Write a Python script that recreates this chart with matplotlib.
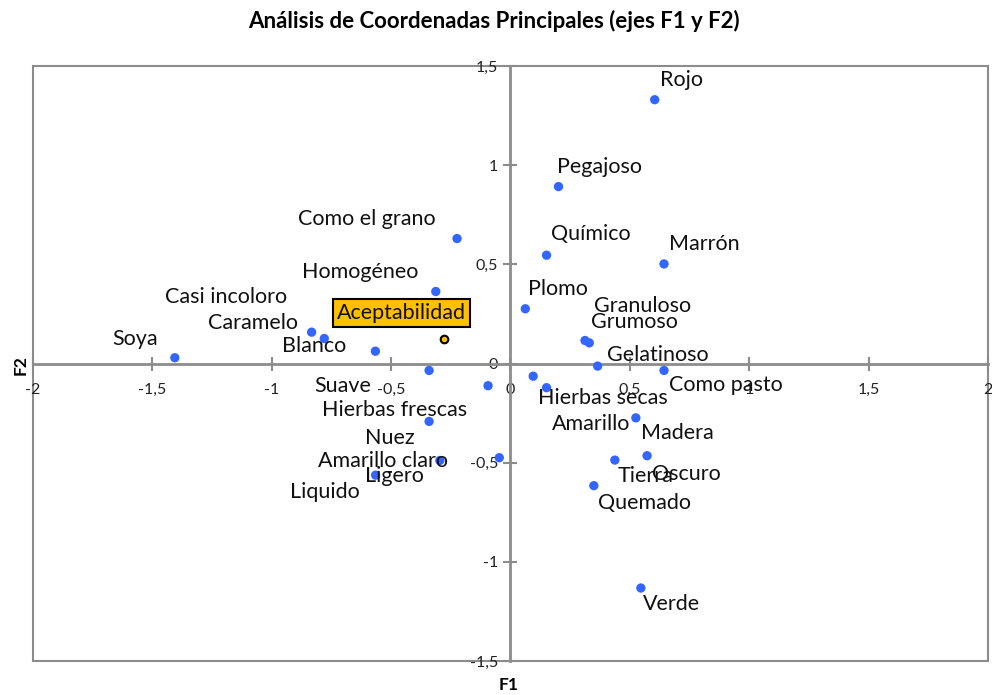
#!/usr/bin/env python3
# coding: utf-8

import matplotlib
matplotlib.use('Agg')
import matplotlib.pyplot as plt
from matplotlib.patches import Rectangle
from matplotlib.ticker import FuncFormatter

plt.rcParams['font.family'] = ['Lato', 'DejaVu Sans']

# variables (F1, F2)
labels = ['Rojo', 'Pegajoso', 'Como el grano', 'Químico', 'Marrón', 'Homogéneo',
          'Casi incoloro', 'Caramelo', 'Soya', 'Blanco', 'Plomo', 'Granuloso',
          'Grumoso', 'Gelatinoso', 'Como pasto', 'Suave', 'Hierbas frescas',
          'Hierbas secas', 'Amarillo', 'Nuez', 'Amarillo claro', 'Ligero',
          'Liquido', 'Madera', 'Oscuro', 'Tierra', 'Quemado', 'Verde']
f1 = [0.604, 0.201, -0.224, 0.151, 0.643, -0.313,
      -0.780, -0.833, -1.406, -0.566, 0.062, 0.312,
      0.330, 0.365, 0.643, -0.341, -0.094,
      0.095, 0.151, -0.341, -0.047, -0.296,
      -0.565, 0.525, 0.572, 0.437, 0.349, 0.546]
f2 = [1.330, 0.892, 0.630, 0.546, 0.502, 0.363,
      0.126, 0.158, 0.029, 0.062, 0.276, 0.116,
      0.104, -0.013, -0.035, -0.035, -0.112,
      -0.064, -0.122, -0.292, -0.475, -0.489,
      -0.563, -0.274, -0.465, -0.487, -0.616, -1.132]

# supplementary variable
sup_label = 'Aceptabilidad'
sup_f1 = -0.277
sup_f2 = 0.124

# label offsets in pixels (dx, dy)
offsets = {
    'Rojo': (27, 20), 'Pegajoso': (41, 20), 'Como el grano': (-90, 20),
    'Químico': (44, 21), 'Marrón': (40, 20), 'Homogéneo': (-76, 20),
    'Casi incoloro': (-98, 42), 'Caramelo': (-59, 9), 'Soya': (-40, 19),
    'Blanco': (-61, 5), 'Plomo': (33, 20), 'Granuloso': (58, 34),
    'Grumoso': (45, 21), 'Gelatinoso': (60, 11), 'Como pasto': (62, -15),
    'Suave': (-86, -16), 'Hierbas frescas': (-93, -24), 'Hierbas secas': (70, -22),
    'Amarillo': (45, -36), 'Nuez': (-39, -17), 'Amarillo claro': (-116, -3),
    'Ligero': (-45, -16), 'Liquido': (-51, -17), 'Madera': (42, -15),
    'Oscuro': (39, -18), 'Tierra': (31, -16), 'Quemado': (51, -17),
    'Verde': (31, -16),
}


def main():
    fig = plt.figure(figsize=(9.92, 6.95), dpi=100)
    ax = fig.add_axes([33 / 992, 34 / 695, 955 / 992, 595 / 695])
    ax.set_xlim(-2, 2)
    ax.set_ylim(-1.5, 1.5)

    grey = '#8c8c8c'
    ax.add_patch(Rectangle((0, 0), 1, 1, transform=ax.transAxes, fill=False,
                           edgecolor=grey, lw=1.5, clip_on=False, zorder=1))

    for s in ['top', 'right']:
        ax.spines[s].set_visible(False)
    ax.spines['left'].set_position(('data', 0))
    ax.spines['bottom'].set_position(('data', 0))
    ax.spines['left'].set_color(grey)
    ax.spines['bottom'].set_color(grey)
    ax.spines['left'].set_linewidth(2)
    ax.spines['bottom'].set_linewidth(2)

    ticks_x = [-2, -1.5, -1, -0.5, 0, 0.5, 1, 1.5, 2]
    ticks_y = [-1.5, -1, -0.5, 0, 0.5, 1, 1.5]
    ax.set_xticks(ticks_x)
    ax.set_yticks(ticks_y)
    fmt = FuncFormatter(lambda v, p: ('%g' % v).replace('.', ','))
    ax.xaxis.set_major_formatter(fmt)
    ax.yaxis.set_major_formatter(fmt)
    ax.tick_params(direction='inout', length=10, width=1.5, color=grey,
                   labelsize=11.5, labelcolor='#222222')
    ax.tick_params(axis='x', pad=9)
    ax.tick_params(axis='y', pad=4)

    ax.scatter(f1, f2, s=45, color='#3366ff', edgecolors='none', zorder=3)
    for name, x, y in zip(labels, f1, f2):
        dx, dy = offsets[name]
        ax.annotate(name, (x, y), xytext=(dx, dy), textcoords='offset pixels',
                    ha='center', va='center', fontsize=15.5, color='#111111')

    ax.scatter([sup_f1], [sup_f2], s=30, color='#ffc000', edgecolors='black',
               linewidths=1.5, zorder=3)
    ax.annotate(sup_label, (sup_f1, sup_f2), xytext=(-43, 26),
                textcoords='offset pixels', ha='center', va='center',
                fontsize=15.5, color='#111111',
                bbox=dict(boxstyle='square,pad=0.2', fc='#ffc000', ec='black', lw=1.5))

    fig.text(494 / 992, 1 - 21 / 695, 'Análisis de Coordenadas Principales (ejes F1 y F2)',
             ha='center', va='center', fontsize=16, fontweight='bold')
    fig.text(509 / 992, 1 - 685 / 695, 'F1', ha='center', va='center',
             fontsize=12.5, fontweight='bold')
    fig.text(21 / 992, 1 - 365 / 695, 'F2', ha='center', va='center',
             fontsize=12.5, fontweight='bold', rotation=90)

    fig.savefig('out.png', dpi=100)


if __name__ == '__main__':
    main()
